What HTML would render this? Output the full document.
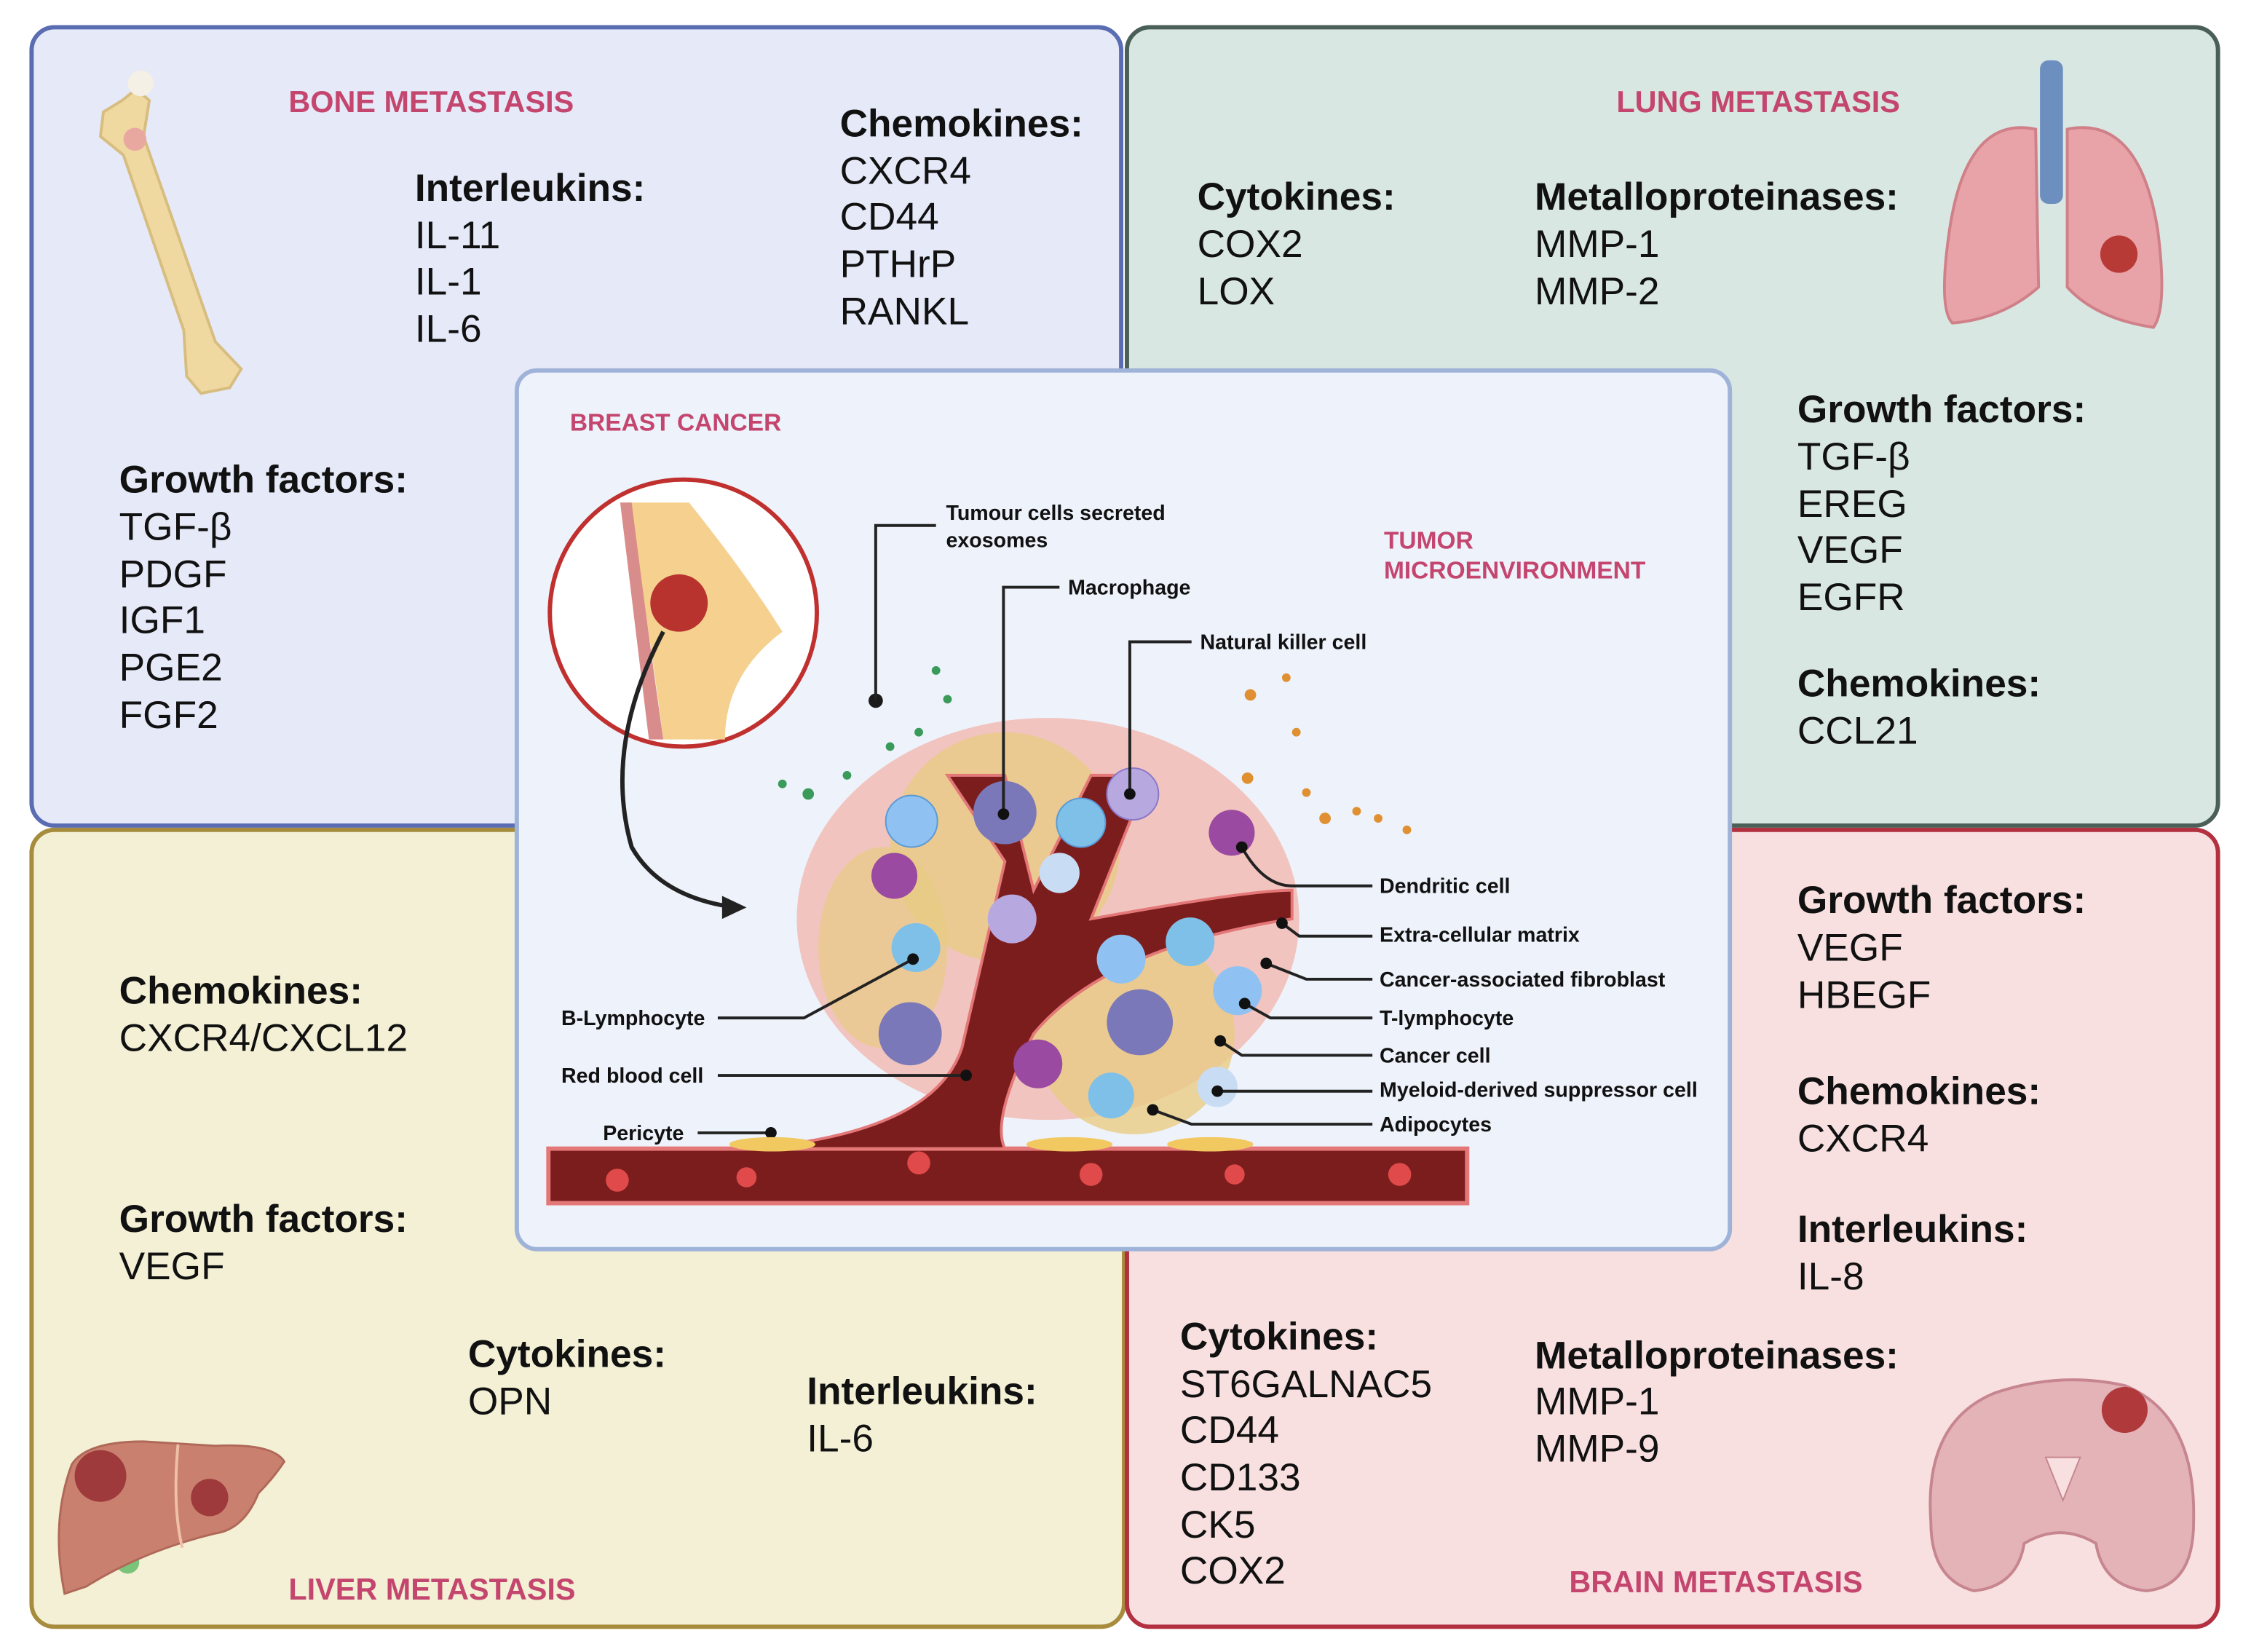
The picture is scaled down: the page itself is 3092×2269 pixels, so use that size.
<!DOCTYPE html>
<html><head><meta charset="utf-8"><style>
html,body{margin:0;padding:0;background:#fff}
svg{display:block}
text{font-family:"Liberation Sans",sans-serif}
.h{font-weight:bold;font-size:27px;fill:#111}
.i{font-size:27px;fill:#111}
.t{font-weight:bold;font-size:21px;fill:#c4466f}
.l{font-weight:bold;font-size:14.5px;fill:#111}
</style></head><body>
<svg width="3092" height="2269" viewBox="0 0 1568 1150.6" preserveAspectRatio="none" xmlns="http://www.w3.org/2000/svg">
<rect width="1568" height="1151" fill="#fff"/>
<!-- panels -->
<rect x="22" y="19" width="759" height="556" rx="16" fill="#e5e9f8" stroke="#5a6cb2" stroke-width="3"/>
<rect x="785" y="19" width="760" height="556" rx="16" fill="#d9e7e2" stroke="#4a5f58" stroke-width="3"/>
<rect x="22" y="578" width="761" height="555" rx="16" fill="#f3f0d5" stroke="#a68c3c" stroke-width="3"/>
<rect x="785" y="578" width="760" height="555" rx="16" fill="#f8e0e0" stroke="#b2303f" stroke-width="3"/>
<rect x="360" y="258" width="845" height="612" rx="14" fill="#edf2fb" stroke="#9fb3d9" stroke-width="3"/>

<!-- bone -->
<path d="M95 62 L85 70 L72 78 L70 95 L86 108 L128 230 L130 262 L140 274 L160 270 L168 257 L150 238 L100 95 L104 70 Z" fill="#f0d9a0" stroke="#d8bd80" stroke-width="2"/>
<circle cx="98" cy="58" r="9" fill="#f4f0e6"/>
<circle cx="94" cy="97" r="8" fill="#e8a8a0"/>
<text class="t" x="201" y="78">BONE METASTASIS</text>
<text class="h" x="289" y="140">Interleukins:</text>
<text class="i" x="289" y="173">IL-11</text><text class="i" x="289" y="205">IL-1</text><text class="i" x="289" y="238">IL-6</text>
<text class="h" x="585" y="95">Chemokines:</text>
<text class="i" x="585" y="128">CXCR4</text><text class="i" x="585" y="160">CD44</text><text class="i" x="585" y="193">PTHrP</text><text class="i" x="585" y="226">RANKL</text>
<text class="h" x="83" y="343">Growth factors:</text>
<text class="i" x="83" y="376">TGF-β</text><text class="i" x="83" y="409">PDGF</text><text class="i" x="83" y="441">IGF1</text><text class="i" x="83" y="474">PGE2</text><text class="i" x="83" y="507">FGF2</text>

<!-- lung -->
<rect x="1421" y="42" width="16" height="100" rx="6" fill="#6d8fc0"/>
<path d="M1418 90 Q1370 80 1358 160 Q1350 215 1360 225 Q1395 222 1420 200 Z" fill="#e8a3a8" stroke="#cf8088" stroke-width="2"/>
<path d="M1440 90 Q1490 80 1503 160 Q1510 215 1500 228 Q1460 222 1440 200 Z" fill="#e8a3a8" stroke="#cf8088" stroke-width="2"/>
<circle cx="1476" cy="177" r="13" fill="#b83a36"/>
<text class="t" x="1126" y="78">LUNG METASTASIS</text>
<text class="h" x="834" y="146">Cytokines:</text>
<text class="i" x="834" y="179">COX2</text><text class="i" x="834" y="212">LOX</text>
<text class="h" x="1069" y="146">Metalloproteinases:</text>
<text class="i" x="1069" y="179">MMP-1</text><text class="i" x="1069" y="212">MMP-2</text>
<text class="h" x="1252" y="294">Growth factors:</text>
<text class="i" x="1252" y="327">TGF-β</text><text class="i" x="1252" y="360">EREG</text><text class="i" x="1252" y="392">VEGF</text><text class="i" x="1252" y="425">EGFR</text>
<text class="h" x="1252" y="485">Chemokines:</text>
<text class="i" x="1252" y="518">CCL21</text>

<!-- liver -->
<circle cx="89" cy="1088" r="8" fill="#7ac47a"/>
<path d="M45 1110 Q35 1060 50 1020 Q60 1004 100 1004 L150 1007 Q190 1005 198 1018 Q190 1030 180 1040 Q170 1065 150 1068 Q100 1080 60 1105 Z" fill="#c9806f" stroke="#b06858" stroke-width="1.5"/>
<path d="M124 1006 Q120 1050 127 1078" fill="none" stroke="#eec0a8" stroke-width="2"/>
<circle cx="70" cy="1028" r="18" fill="#9e3a3c"/>
<circle cx="146" cy="1043" r="13" fill="#9e3a3c"/>
<text class="t" x="201" y="1114">LIVER METASTASIS</text>
<text class="h" x="83" y="699">Chemokines:</text>
<text class="i" x="83" y="732">CXCR4/CXCL12</text>
<text class="h" x="83" y="858">Growth factors:</text>
<text class="i" x="83" y="891">VEGF</text>
<text class="h" x="326" y="952">Cytokines:</text>
<text class="i" x="326" y="985">OPN</text>
<text class="h" x="562" y="978">Interleukins:</text>
<text class="i" x="562" y="1011">IL-6</text>

<!-- brain -->
<path d="M1345 1060 Q1340 990 1390 970 Q1435 955 1480 965 Q1530 985 1528 1060 Q1528 1105 1495 1108 Q1465 1105 1460 1075 Q1435 1060 1410 1075 Q1405 1105 1375 1108 Q1345 1100 1345 1060 Z" fill="#e3b3b8" stroke="#c7868f" stroke-width="2"/>
<path d="M1425 1015 L1437 1045 L1449 1015 Z" fill="#f8e0e0" stroke="#c7868f"/>
<circle cx="1480" cy="982" r="16" fill="#b0393c"/>
<text class="t" x="1093" y="1109">BRAIN METASTASIS</text>
<text class="h" x="1252" y="636">Growth factors:</text>
<text class="i" x="1252" y="669">VEGF</text><text class="i" x="1252" y="702">HBEGF</text>
<text class="h" x="1252" y="769">Chemokines:</text>
<text class="i" x="1252" y="802">CXCR4</text>
<text class="h" x="1252" y="865">Interleukins:</text>
<text class="i" x="1252" y="898">IL-8</text>
<text class="h" x="822" y="940">Cytokines:</text>
<text class="i" x="822" y="973">ST6GALNAC5</text><text class="i" x="822" y="1005">CD44</text><text class="i" x="822" y="1038">CD133</text><text class="i" x="822" y="1071">CK5</text><text class="i" x="822" y="1103">COX2</text>
<text class="h" x="1069" y="953">Metalloproteinases:</text>
<text class="i" x="1069" y="985">MMP-1</text><text class="i" x="1069" y="1018">MMP-9</text>

<!-- center -->
<text class="t" x="397" y="300" style="font-size:17px">BREAST CANCER</text>
<text class="t" x="964" y="382" style="font-size:17px">TUMOR</text>
<text class="t" x="964" y="403" style="font-size:17px">MICROENVIRONMENT</text>
<circle cx="476" cy="427" r="93" fill="#fff" stroke="#c0302e" stroke-width="3"/>
<path d="M437 350 Q450 420 462 515 L505 515 Q505 470 545 440 Q520 400 480 350 Z" fill="#f5d08e"/>
<path d="M432 350 L440 350 Q450 430 462 515 L452 515 Z" fill="#d98c8c"/>
<circle cx="473" cy="420" r="20" fill="#b8322e"/>
<path d="M462 440 Q420 520 440 590 Q460 625 512 632" fill="none" stroke="#222" stroke-width="3"/>
<path d="M503 624 L520 632 L503 640 Z" fill="#222"/>

<!-- tumor mass -->
<ellipse cx="730" cy="640" rx="175" ry="140" fill="#f1b8b0" opacity="0.8"/>
<ellipse cx="700" cy="590" rx="80" ry="80" fill="#e8cc85" opacity="0.8"/>
<ellipse cx="790" cy="720" rx="70" ry="70" fill="#e8cc85" opacity="0.8"/>
<ellipse cx="615" cy="660" rx="45" ry="70" fill="#e8cc85" opacity="0.7"/>
<!-- vessel -->
<rect x="382" y="800" width="640" height="38" fill="#7c1d1d" stroke="#e47878" stroke-width="3"/>
<path d="M520 800 Q650 790 670 730 L700 600 L660 540 L700 540 L720 620 L760 540 L800 540 L760 640 Q870 620 900 620 L900 640 Q770 660 720 720 Q690 780 700 800 Z" fill="#7c1d1d" stroke="#e47878" stroke-width="2"/>
<!-- cells -->
<g>
<circle cx="635" cy="572" r="18" fill="#8fc2f2" stroke="#5a9ad8"/>
<circle cx="753" cy="573" r="17" fill="#7fc0e8" stroke="#5a9ad8"/>
<circle cx="789" cy="553" r="18" fill="#b8a8e0" stroke="#8a78c8"/>
<circle cx="700" cy="566" r="22" fill="#7a78b8"/>
<circle cx="738" cy="608" r="14" fill="#c8dcf4"/>
<circle cx="705" cy="640" r="17" fill="#b8a8e0"/>
<circle cx="623" cy="610" r="16" fill="#9a4aa0"/>
<circle cx="638" cy="660" r="17" fill="#7fc0e8"/>
<circle cx="634" cy="720" r="22" fill="#7a78b8"/>
<circle cx="781" cy="668" r="17" fill="#8fc2f2"/>
<circle cx="829" cy="656" r="17" fill="#7fc0e8"/>
<circle cx="862" cy="690" r="17" fill="#8fc2f2"/>
<circle cx="794" cy="712" r="23" fill="#7a78b8"/>
<circle cx="723" cy="741" r="17" fill="#9a4aa0"/>
<circle cx="774" cy="763" r="16" fill="#7fc0e8"/>
<circle cx="848" cy="757" r="14" fill="#c8dcf4"/>
<circle cx="858" cy="580" r="16" fill="#9a4aa0"/>
<circle cx="610" cy="488" r="5" fill="#1a1a1a"/>
</g>
<g fill="#3a9a5a"><circle cx="652" cy="467" r="3"/><circle cx="563" cy="553" r="4"/><circle cx="640" cy="510" r="3"/><circle cx="590" cy="540" r="3"/><circle cx="660" cy="487" r="3"/><circle cx="620" cy="520" r="3"/><circle cx="545" cy="546" r="3"/></g>
<g fill="#e09030"><circle cx="871" cy="484" r="4"/><circle cx="896" cy="472" r="3"/><circle cx="923" cy="570" r="4"/><circle cx="903" cy="510" r="3"/><circle cx="945" cy="565" r="3"/><circle cx="960" cy="570" r="3"/><circle cx="869" cy="542" r="4"/><circle cx="980" cy="578" r="3"/><circle cx="910" cy="552" r="3"/></g>
<!-- leader lines -->
<g fill="none" stroke="#222" stroke-width="2">
<path d="M610 488 V366 H652"/>
<path d="M699 567 V409 H738"/>
<path d="M787 551 V447 H830"/>
<path d="M865 590 Q880 617 900 617 H956"/>
<path d="M893 643 L905 652 H956"/>
<path d="M882 671 L910 682 H956"/>
<path d="M867 699 L885 709 H956"/>
<path d="M850 725 L865 735 H956"/>
<path d="M848 760 H956"/>
<path d="M803 773 L830 783 H956"/>
<path d="M500 709 H560 L636 668"/>
<path d="M500 749 H673"/>
<path d="M486 789 H537"/>
</g>
<g fill="#111"><circle cx="699" cy="567" r="4"/><circle cx="787" cy="553" r="4"/><circle cx="865" cy="590" r="4"/><circle cx="893" cy="643" r="4"/><circle cx="882" cy="671" r="4"/><circle cx="867" cy="699" r="4"/><circle cx="850" cy="725" r="4"/><circle cx="848" cy="760" r="4"/><circle cx="803" cy="773" r="4"/><circle cx="636" cy="668" r="4"/><circle cx="673" cy="749" r="4"/><circle cx="537" cy="789" r="4"/></g>
<g fill="#f2c860"><ellipse cx="538" cy="797" rx="30" ry="5"/><ellipse cx="745" cy="797" rx="30" ry="5"/><ellipse cx="843" cy="797" rx="30" ry="5"/></g>
<g fill="#e04a4a"><circle cx="430" cy="822" r="8"/><circle cx="520" cy="820" r="7"/><circle cx="640" cy="810" r="8"/><circle cx="760" cy="818" r="8"/><circle cx="860" cy="818" r="7"/><circle cx="975" cy="818" r="8"/></g>
<text class="l" x="659" y="362">Tumour cells secreted</text>
<text class="l" x="659" y="381">exosomes</text>
<text class="l" x="744" y="414">Macrophage</text>
<text class="l" x="836" y="452">Natural killer cell</text>
<text class="l" x="961" y="622">Dendritic cell</text>
<text class="l" x="961" y="656">Extra-cellular matrix</text>
<text class="l" x="961" y="687">Cancer-associated fibroblast</text>
<text class="l" x="961" y="714">T-lymphocyte</text>
<text class="l" x="961" y="740">Cancer cell</text>
<text class="l" x="961" y="764">Myeloid-derived suppressor cell</text>
<text class="l" x="961" y="788">Adipocytes</text>
<text class="l" x="391" y="714">B-Lymphocyte</text>
<text class="l" x="391" y="754">Red blood cell</text>
<text class="l" x="420" y="794">Pericyte</text>
</svg>
</body></html>
